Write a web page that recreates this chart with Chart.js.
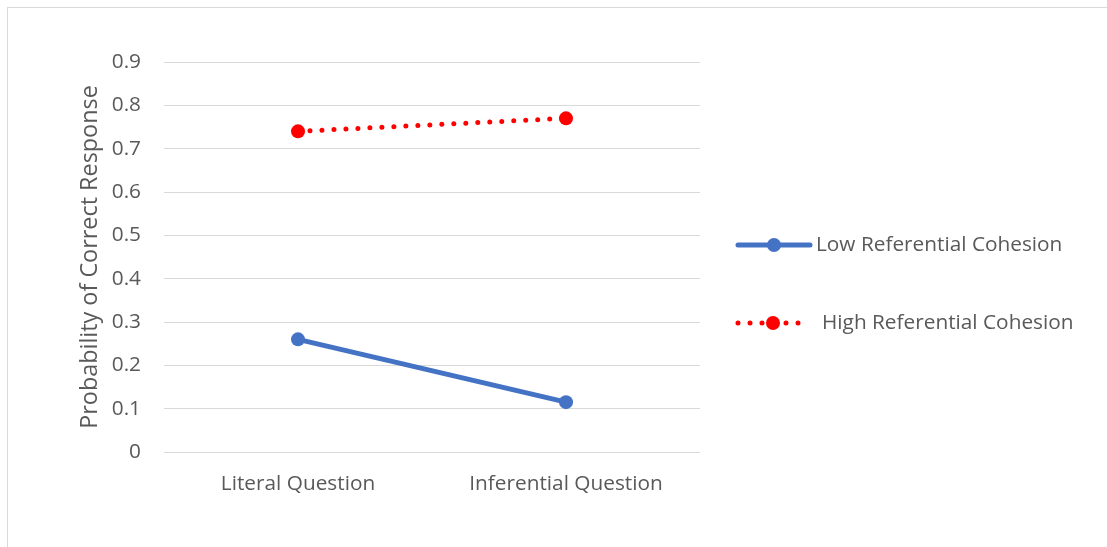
<!DOCTYPE html>
<html>
<head>
<meta charset="utf-8">
<script src="https://cdn.jsdelivr.net/npm/chart.js@4"></script>
<style>
  html, body { margin: 0; padding: 0; background: #fff; }
  #wrap { position: relative; width: 1107px; height: 547px; }
  canvas { display: block; }
</style>
</head>
<body>
<div id="wrap"><canvas id="c" width="1107" height="547"></canvas></div>
<script>
// Question types on the x axis
const categories = ['Literal Question', 'Inferential Question'];
// Probability of a correct response per cohesion condition
const lowCohesion = [0.26, 0.115];
const highCohesion = [0.74, 0.77];
const seriesNames = ['Low Referential Cohesion', 'High Referential Cohesion'];
// Y axis range and step
const yMin = 0, yMax = 0.9, yStep = 0.1;

const FONT = 'Open Sans';
const LABEL_SIZE = 20.8;
const TITLE_SIZE = 23.4;
const TEXT = '#595959';
const GRID = '#d9d9d9';
const BLUE = '#4472C4';
const RED = '#FF0000';

// Outer frame and the side legend
const decor = {
  id: 'decor',
  beforeDraw(chart) {
    const ctx = chart.ctx;
    ctx.save();
    ctx.fillStyle = '#fff';
    ctx.fillRect(0, 0, chart.width, chart.height);
    ctx.strokeStyle = GRID;
    ctx.lineWidth = 1;
    ctx.strokeRect(7.5, 7.5, 1120, 580);
    ctx.restore();
  },
  afterDraw(chart) {
    const ctx = chart.ctx;
    const rows = [
      { y: 245, x0: 738, x1: 810, mx: 774, tx: 816, ds: chart.data.datasets[0] },
      { y: 323, x0: 738, x1: 806, mx: 773, tx: 822, ds: chart.data.datasets[1] }
    ];
    ctx.save();
    rows.forEach(r => {
      const ds = r.ds;
      ctx.strokeStyle = ds.borderColor;
      ctx.lineWidth = ds.borderWidth;
      ctx.lineCap = 'round';
      ctx.setLineDash(ds.borderDash || []);
      ctx.beginPath();
      ctx.moveTo(r.x0, r.y);
      ctx.lineTo(r.x1, r.y);
      ctx.stroke();
      ctx.setLineDash([]);
      ctx.fillStyle = ds.pointBackgroundColor;
      ctx.beginPath();
      ctx.arc(r.mx, r.y, ds.pointRadius, 0, Math.PI * 2);
      ctx.fill();
      ctx.fillStyle = TEXT;
      ctx.font = LABEL_SIZE + 'px "' + FONT + '"';
      ctx.textBaseline = 'middle';
      ctx.textAlign = 'left';
      ctx.fillText(ds.label, r.tx, r.y);
    });
    ctx.restore();
  }
};

new Chart(document.getElementById('c'), {
  type: 'line',
  data: {
    labels: categories,
    datasets: [
      {
        label: seriesNames[0],
        data: lowCohesion,
        borderColor: BLUE,
        backgroundColor: BLUE,
        borderWidth: 5,
        pointRadius: 7,
        pointHoverRadius: 7,
        pointBackgroundColor: BLUE,
        pointBorderWidth: 0,
        borderCapStyle: 'round'
      },
      {
        label: seriesNames[1],
        data: highCohesion,
        borderColor: RED,
        backgroundColor: RED,
        borderWidth: 5,
        borderDash: [0, 12],
        borderCapStyle: 'round',
        pointRadius: 7,
        pointHoverRadius: 7,
        pointBackgroundColor: RED,
        pointBorderWidth: 0
      }
    ]
  },
  options: {
    responsive: false,
    animation: false,
    events: [],
    layout: { padding: { left: 72, right: 407, top: 62, bottom: 0 } },
    plugins: { legend: { display: false }, tooltip: { enabled: false } },
    scales: {
      x: {
        offset: true,
        grid: { display: false, drawTicks: false },
        border: { display: false },
        ticks: { color: TEXT, font: { family: FONT, size: LABEL_SIZE }, padding: 20, maxRotation: 0 },
        afterFit(s) { s.height = 95; }
      },
      y: {
        min: yMin,
        max: yMax,
        grid: { color: GRID, lineWidth: 1, drawTicks: false },
        border: { display: false },
        ticks: {
          stepSize: yStep,
          color: TEXT,
          font: { family: FONT, size: LABEL_SIZE },
          padding: 23,
          callback: v => String(+v.toFixed(1))
        },
        title: {
          display: true,
          text: 'Probability of Correct Response',
          color: TEXT,
          font: { family: FONT, size: TITLE_SIZE },
          padding: { top: 4, bottom: 0 }
        },
        afterFit(s) { s.width = 92; }
      }
    }
  },
  plugins: [decor]
});
</script>
</body>
</html>
